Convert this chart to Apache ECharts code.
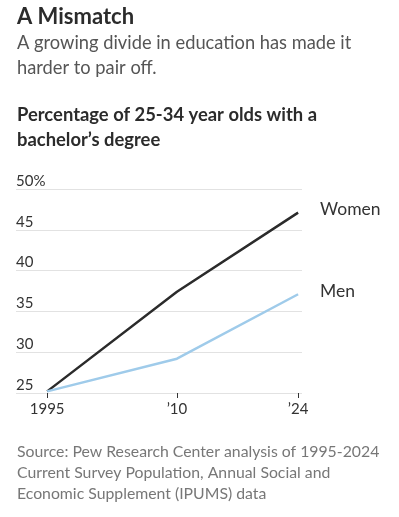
<!DOCTYPE html>
<html>
<head>
<meta charset="utf-8">
<script src="https://cdn.jsdelivr.net/npm/echarts@6/dist/echarts.min.js"></script>
<style>
html,body{margin:0;padding:0;background:#fff;}
#chart{width:399px;height:517px;}
</style>
</head>
<body>
<div id="chart"></div>
<script>
var years = [1995, 2010, 2024];
var women = [25.2, 37.4, 47.1];
var men = [25.2, 29.2, 37.1];
var xTickLabels = ['1995', '\u201910', '\u201924'];
var yTicks = [25, 30, 35, 40, 45, 50];
var seriesNames = ['Women', 'Men'];

var FONT = 'Lato';
var chart = echarts.init(document.getElementById('chart'), null, {renderer: 'canvas'});

var option = {
  backgroundColor: '#ffffff',
  animation: false,
  textStyle: {fontFamily: FONT},
  graphic: [
    {type: 'text', left: 17, top: 4, style: {text: 'A Mismatch', font: 'bold 22px ' + FONT, fill: '#2b2b2b', lineHeight: 26}},
    {type: 'text', left: 17, top: 31, style: {text: 'A growing divide in education has made it\nharder to pair off.', font: '18.3px ' + FONT, fill: '#555555', lineHeight: 25}},
    {type: 'text', left: 17, top: 103, style: {text: 'Percentage of 25-34 year olds with a\nbachelor\u2019s degree', font: 'bold 18.4px ' + FONT, fill: '#2b2b2b', lineHeight: 25}},
    {type: 'text', left: 17, top: 441, style: {text: 'Source: Pew Research Center analysis of 1995-2024\nCurrent Survey Population, Annual Social and\nEconomic Supplement (IPUMS) data', font: '15.8px ' + FONT, fill: '#777777', lineHeight: 21}}
  ],
  grid: {left: 16, right: 97, top: 189, bottom: 124, containLabel: false},
  xAxis: {
    type: 'value',
    min: 1991.4,
    max: 2024.45,
    axisLine: {show: false},
    splitLine: {show: false},
    axisTick: {show: true, customValues: years, length: 5, lineStyle: {color: '#333', width: 1}},
    axisLabel: {
      customValues: years, margin: 9, fontSize: 15, color: '#333', fontFamily: FONT,
      formatter: function (v) { var i = years.indexOf(v); return i >= 0 ? xTickLabels[i] : ''; }
    }
  },
  yAxis: {
    type: 'value',
    min: 25,
    max: 50,
    interval: 5,
    axisLine: {show: false},
    axisTick: {show: false},
    splitLine: {show: true, lineStyle: {color: '#e2e2e2', width: 1}},
    axisLabel: {
      inside: true, margin: 0, fontSize: 15, color: '#333', fontFamily: FONT,
      verticalAlign: 'bottom', lineHeight: 16,
      formatter: function (v) { return v === yTicks[yTicks.length - 1] ? v + '%' : String(v); }
    }
  },
  series: [
    {
      name: seriesNames[0], type: 'line', data: years.map(function (y, i) { return [y, women[i]]; }),
      symbol: 'none', lineStyle: {color: '#2b2b2b', width: 2.5}, itemStyle: {color: '#2b2b2b'},
      endLabel: {show: true, formatter: '{a}', distance: 22, offset: [0, -3], fontSize: 17.5, color: '#333', fontFamily: FONT}
    },
    {
      name: seriesNames[1], type: 'line', data: years.map(function (y, i) { return [y, men[i]]; }),
      symbol: 'none', lineStyle: {color: '#9fcbea', width: 2.5}, itemStyle: {color: '#9fcbea'},
      endLabel: {show: true, formatter: '{a}', distance: 22, offset: [0, -3], fontSize: 17.5, color: '#333', fontFamily: FONT}
    }
  ]
};
chart.setOption(option);
</script>
</body>
</html>
